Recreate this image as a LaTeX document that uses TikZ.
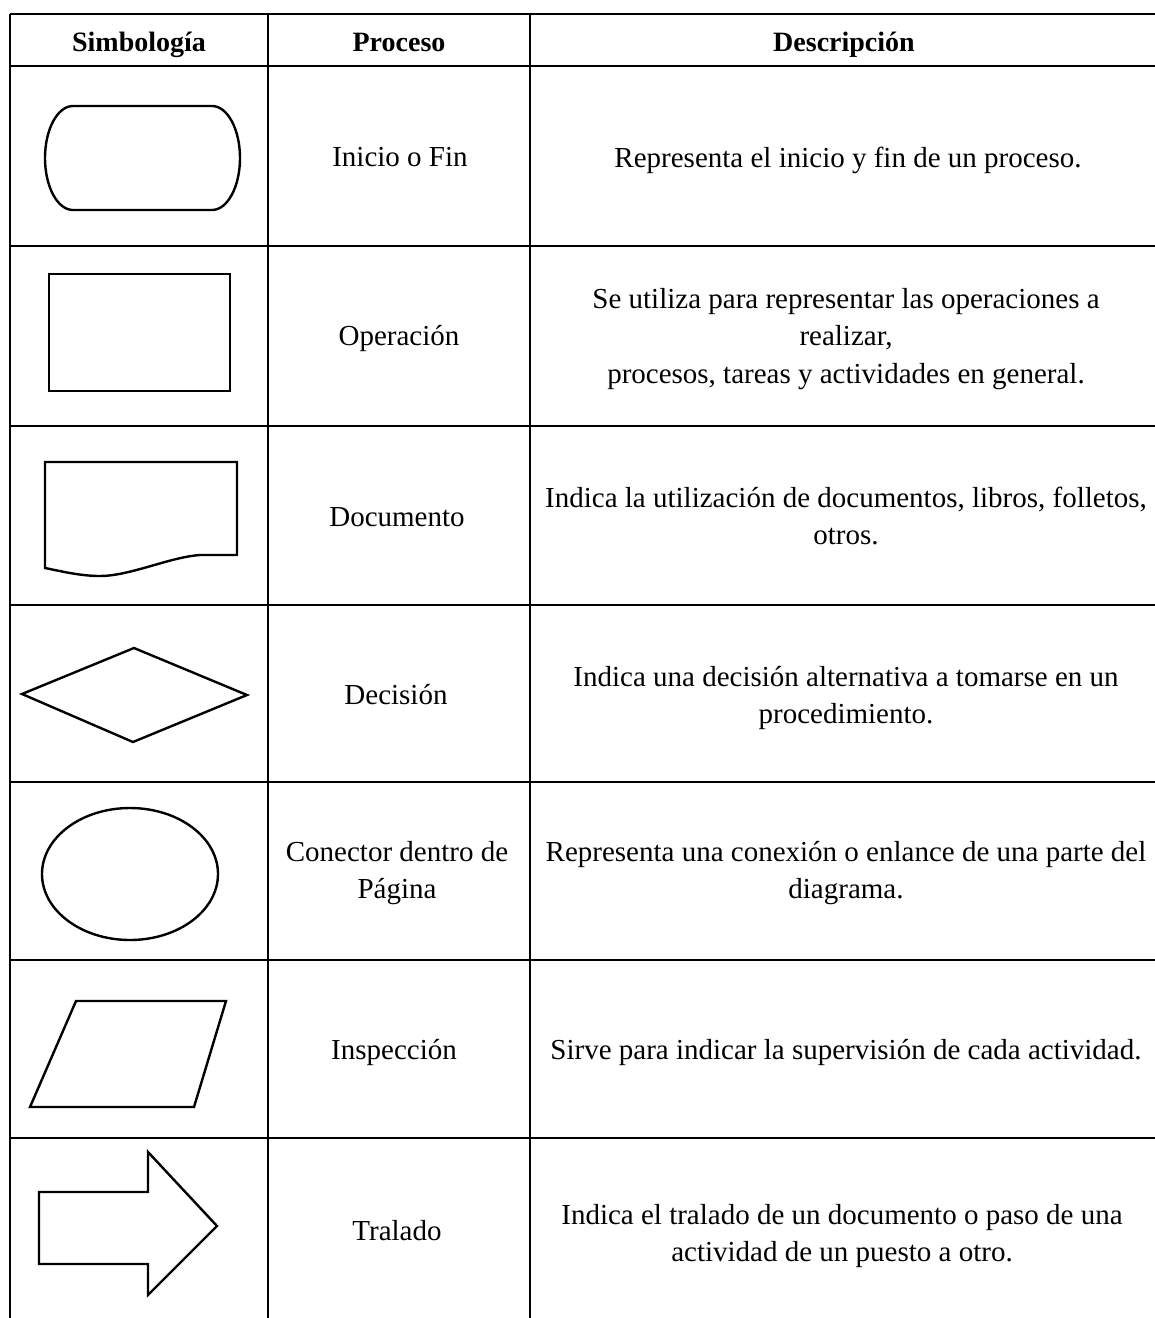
\documentclass[tikz,border=0pt]{standalone}
\usepackage{fontspec}
\setmainfont{Liberation Serif}
\begin{document}
\begin{tikzpicture}[x=0.5pt,y=-0.5pt,
  grid/.style={line width=0.75pt,black},
  shp/.style={line width=1.2pt,black,line join=miter},
  hd/.style={font=\fontsize{14}{18}\selectfont\bfseries,inner sep=0pt,anchor=base},
  txt/.style={font=\fontsize{14.5}{18.6}\selectfont,align=center,inner sep=0pt}]
\useasboundingbox (0,0) rectangle (1155,1318);
% table grid
\foreach \yy in {14,66,246,426,605,782,960,1138}
  \draw[grid] (10,\yy) -- (1155,\yy);
\foreach \xx in {10,268,530}
  \draw[grid] (\xx,14) -- (\xx,1318);
% header
\node[hd] (h1) at (139,51) {Simbología};
\node[hd] (h2) at (399,51) {Proceso};
\node[hd] (h3) at (844,51) {Descripción};
% row 1: terminal
\draw[shp] (73,106) -- (212,106)
  .. controls (227.5,106) and (240,129.3) .. (240,158)
  .. controls (240,186.7) and (227.5,210) .. (212,210)
  -- (73,210)
  .. controls (57.5,210) and (45,186.7) .. (45,158)
  .. controls (45,129.3) and (57.5,106) .. cycle;
\node[txt] (p1) at (400,157) {Inicio o Fin};
\node[txt] (d1) at (848,160) {Representa el inicio y fin de un proceso.};
% row 2: operation
\draw[shp] (49,274) rectangle (230,391);
\node[txt] (p2) at (399,338) {Operación};
\node[txt] (d2) at (846,339) {Se utiliza para representar las operaciones a\\ realizar,\\ procesos, tareas y actividades en general.};
% row 3: document
\draw[shp] (45,568) -- (45,462) -- (237,462) -- (237,555) -- (200,555)
  .. controls (170,557) and (130,576) .. (100,576)
  .. controls (80,576) and (60,571) .. cycle;
\node[txt] (p3) at (397,517) {Documento};
\node[txt] (d3) at (846,516) {Indica la utilización de documentos, libros, folletos,\\ otros.};
% row 4: decision
\draw[shp] (22,694) -- (134,648) -- (247,695) -- (133,742) -- cycle;
\node[txt] (p4) at (396,695) {Decisión};
\node[txt] (d4) at (846,698) {Indica una decisión alternativa a tomarse en un\\ procedimiento.};
% row 5: connector
\draw[shp] (130,874) ellipse [x radius=44pt, y radius=33pt];
\node[txt] (p5) at (397,873) {Conector dentro de\\ Página};
\node[txt] (d5) at (846,873) {Representa una conexión o enlance de una parte del\\ diagrama.};
% row 6: inspection
\draw[shp] (76,1001) -- (226,1001) -- (194,1107) -- (30,1107) -- cycle;
\node[txt] (p6) at (394,1052) {Inspección};
\node[txt] (d6) at (846,1052) {Sirve para indicar la supervisión de cada actividad.};
% row 7: transfer arrow
\draw[shp] (39,1192) -- (148,1192) -- (148,1152) -- (217,1226) -- (148,1295)
  -- (148,1264) -- (39,1264) -- cycle;
\node[txt] (p7) at (397,1231) {Tralado};
\node[txt] (d7) at (842,1236) {Indica el tralado de un documento o paso de una\\ actividad de un puesto a otro.};
\end{tikzpicture}
\end{document}
